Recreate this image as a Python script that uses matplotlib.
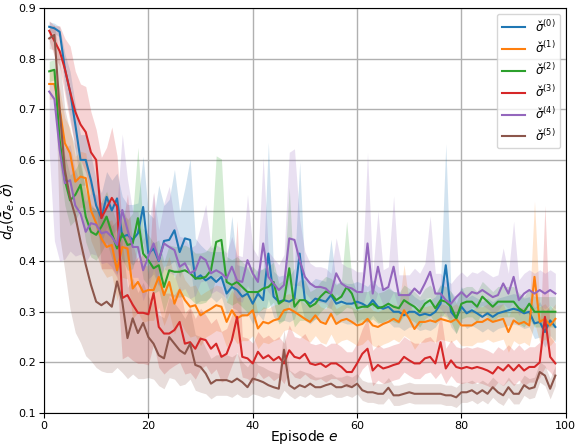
import numpy as np
import matplotlib
matplotlib.use("Agg")
import matplotlib.pyplot as plt

episodes = np.arange(1, 99)

labels = ["$\u03c3\u030c^{(0)}$", "$\u03c3\u030c^{(1)}$", "$\u03c3\u030c^{(2)}$",
          "$\u03c3\u030c^{(3)}$", "$\u03c3\u030c^{(4)}$", "$\u03c3\u030c^{(5)}$"]
colors = ["#1f77b4", "#ff7f0e", "#2ca02c", "#d62728", "#9467bd", "#8c564b"]

# ---- means ----
mean_0 = [0.863,0.860,0.853,0.780,0.735,0.670,0.600,0.600,0.560,0.510,
          0.485,0.527,0.500,0.524,0.448,0.452,0.442,0.455,0.507,0.415,
          0.425,0.400,0.440,0.442,0.461,0.418,0.445,0.442,0.365,0.372,
          0.362,0.369,0.359,0.369,0.336,0.349,0.343,0.330,0.336,0.316,
          0.336,0.323,0.415,0.330,0.320,0.323,0.320,0.326,0.415,0.323,
          0.316,0.326,0.323,0.320,0.333,0.316,0.320,0.316,0.316,0.320,
          0.316,0.310,0.323,0.310,0.306,0.310,0.300,0.300,0.293,0.300,
          0.300,0.293,0.296,0.293,0.300,0.316,0.392,0.300,0.287,0.310,
          0.297,0.303,0.297,0.290,0.297,0.290,0.297,0.300,0.303,0.306,
          0.303,0.297,0.300,0.277,0.280,0.260,0.283,0.270]
mean_1 = [0.750,0.750,0.700,0.633,0.613,0.557,0.567,0.564,0.500,0.475,
          0.445,0.428,0.432,0.382,0.428,0.425,0.346,0.359,0.339,0.343,
          0.343,0.369,0.333,0.359,0.316,0.343,0.323,0.310,0.313,0.293,
          0.300,0.306,0.313,0.310,0.280,0.303,0.287,0.293,0.293,0.303,
          0.267,0.280,0.277,0.283,0.286,0.303,0.306,0.300,0.293,0.286,
          0.280,0.293,0.280,0.276,0.296,0.276,0.283,0.286,0.280,0.273,
          0.276,0.286,0.273,0.270,0.276,0.280,0.286,0.280,0.303,0.286,
          0.266,0.280,0.280,0.283,0.280,0.286,0.283,0.280,0.286,0.273,
          0.273,0.273,0.280,0.280,0.286,0.280,0.283,0.286,0.260,0.283,
          0.276,0.280,0.273,0.369,0.280,0.286,0.273,0.286]
mean_2 = [0.775,0.778,0.640,0.560,0.520,0.531,0.551,0.488,0.458,0.452,
          0.468,0.488,0.455,0.425,0.455,0.432,0.435,0.485,0.415,0.402,
          0.386,0.392,0.349,0.382,0.379,0.379,0.382,0.376,0.366,0.366,
          0.369,0.382,0.438,0.442,0.359,0.353,0.359,0.349,0.339,0.339,
          0.339,0.346,0.349,0.359,0.316,0.323,0.386,0.310,0.323,0.323,
          0.310,0.316,0.330,0.340,0.336,0.323,0.330,0.349,0.336,0.307,
          0.310,0.310,0.316,0.307,0.310,0.316,0.310,0.307,0.323,0.316,
          0.310,0.300,0.316,0.323,0.307,0.323,0.320,0.310,0.287,0.316,
          0.320,0.320,0.310,0.330,0.320,0.310,0.320,0.320,0.320,0.320,
          0.307,0.300,0.316,0.300,0.300,0.300,0.300,0.300]
mean_3 = [0.855,0.835,0.815,0.780,0.735,0.695,0.670,0.655,0.615,0.600,
          0.485,0.505,0.525,0.508,0.327,0.333,0.314,0.298,0.298,0.295,
          0.337,0.270,0.257,0.257,0.264,0.280,0.237,0.240,0.227,0.247,
          0.244,0.227,0.237,0.211,0.217,0.244,0.290,0.211,0.208,0.198,
          0.221,0.208,0.214,0.204,0.211,0.198,0.224,0.211,0.208,0.217,
          0.198,0.195,0.198,0.191,0.198,0.198,0.191,0.181,0.181,0.198,
          0.217,0.227,0.184,0.195,0.188,0.191,0.195,0.198,0.211,0.204,
          0.198,0.198,0.208,0.211,0.198,0.240,0.188,0.204,0.191,0.188,
          0.191,0.188,0.191,0.188,0.184,0.178,0.191,0.184,0.195,0.184,
          0.195,0.184,0.191,0.191,0.200,0.290,0.211,0.198]
mean_4 = [0.735,0.720,0.620,0.554,0.560,0.510,0.494,0.458,0.475,0.472,
          0.455,0.458,0.448,0.432,0.501,0.462,0.428,0.428,0.382,0.409,
          0.435,0.402,0.435,0.428,0.422,0.389,0.396,0.376,0.382,0.409,
          0.402,0.376,0.382,0.376,0.366,0.389,0.362,0.359,0.402,0.376,
          0.359,0.435,0.369,0.356,0.343,0.353,0.445,0.442,0.402,0.369,
          0.356,0.349,0.349,0.346,0.336,0.376,0.356,0.349,0.346,0.339,
          0.339,0.435,0.336,0.389,0.343,0.349,0.389,0.333,0.333,0.333,
          0.346,0.336,0.356,0.379,0.336,0.336,0.323,0.316,0.329,0.339,
          0.329,0.339,0.336,0.343,0.336,0.329,0.333,0.356,0.336,0.369,
          0.323,0.336,0.343,0.336,0.343,0.336,0.343,0.336]
mean_5 = [0.840,0.847,0.700,0.580,0.525,0.489,0.439,0.393,0.353,0.320,
          0.313,0.320,0.310,0.360,0.320,0.248,0.287,0.258,0.278,0.250,
          0.237,0.214,0.208,0.250,0.237,0.224,0.217,0.237,0.195,0.191,
          0.178,0.158,0.165,0.165,0.165,0.161,0.168,0.161,0.151,0.168,
          0.165,0.161,0.155,0.151,0.148,0.225,0.155,0.148,0.155,0.151,
          0.158,0.151,0.151,0.155,0.158,0.151,0.151,0.155,0.151,0.158,
          0.145,0.141,0.141,0.138,0.138,0.150,0.135,0.135,0.138,0.141,
          0.138,0.138,0.138,0.138,0.138,0.138,0.135,0.135,0.131,0.141,
          0.141,0.145,0.138,0.145,0.138,0.151,0.141,0.135,0.151,0.138,
          0.138,0.155,0.148,0.151,0.181,0.174,0.148,0.174]

# ---- band extents above / below the mean, in hundredths ----
up_0 = [1,1,1,3,4,4,5,5,5,5, 5,5,6,5,8,6,7,6,10,8, 6,15,7,8,12,8,10,16,8,6,
        6,5,6,5,6,14,5,6,5,5, 5,6,22,5,5,5,5,6,18,5, 4,4,4,4,11,4,4,4,4,4,
        4,4,4,4,4,4,4,4,4,4, 3,3,3,3,3,4,24,4,4,4, 3,3,3,3,3,3,3,3,3,3,
        3,3,3,3,4,4,3,3]
lo_0 = [1,1,1,4,5,5,5,5,5,5, 5,6,5,6,5,5,5,5,7,5, 5,5,5,5,6,5,5,5,5,5,
        4,4,4,4,4,4,4,4,4,4, 4,4,9,4,4,4,4,4,9,4, 4,4,4,4,4,4,4,4,4,4,
        3,3,3,3,3,3,3,3,3,3, 3,3,3,3,3,3,9,3,3,3, 3,3,3,3,3,3,3,3,3,3,
        3,3,3,3,3,3,3,3]
up_1 = [3,3,4,5,5,5,5,5,5,5, 5,5,5,6,6,6,5,5,5,5, 5,5,5,5,5,5,4,4,4,4,
        4,4,4,4,4,4,4,4,4,4, 3,3,3,3,3,3,3,3,3,3, 3,3,3,3,3,3,3,3,3,3,
        3,3,3,3,3,3,3,3,9,3, 3,3,3,3,3,3,3,3,3,3, 3,3,3,3,3,3,3,3,3,3,
        3,3,3,15,3,3,3,3]
lo_1 = [3,3,5,6,6,6,6,6,6,6, 6,6,6,6,6,6,6,6,6,6, 6,6,6,6,6,6,6,6,6,6,
        5,5,5,5,5,5,5,5,5,5, 4,4,4,4,4,4,4,4,4,4, 4,4,4,4,4,4,4,4,4,4,
        4,4,4,4,4,4,4,4,5,4, 4,4,4,4,4,4,4,4,4,4, 4,4,4,4,4,4,4,4,4,4,
        4,4,4,9,4,4,4,4]
up_2 = [2,2,5,5,5,5,5,5,5,5, 5,5,5,5,5,5,6,14,5,5, 5,5,5,5,5,5,5,5,5,5,
        5,5,17,16,5,5,5,5,5,5, 4,4,4,4,4,4,16,4,4,4, 3,3,3,3,3,3,3,13,3,3,
        3,3,3,3,3,3,3,3,3,3, 3,3,3,3,3,3,3,3,3,3, 3,3,3,3,3,3,3,3,3,3,
        3,3,3,3,3,3,3,3]
lo_2 = [2,2,5,5,5,5,5,5,5,5, 5,5,5,5,5,5,5,6,5,5, 5,5,5,5,5,5,5,5,5,5,
        5,5,7,7,4,4,4,4,4,4, 4,4,4,4,4,4,7,4,4,4, 3,3,3,3,3,3,3,4,3,3,
        3,3,3,3,3,3,3,3,3,3, 3,3,3,3,3,3,3,3,3,3, 3,3,3,3,3,3,3,3,3,3,
        3,3,3,3,3,3,3,3]
up_3 = [2,3,5,6,9,8,8,9,8,6, 12,12,14,10,14,20,12,10,12,8, 20,10,8,8,7,7,6,7,6,6,
        5,5,5,5,5,5,19,4,4,4, 4,4,4,4,4,4,5,4,4,4, 4,4,4,4,4,4,4,4,4,4,
        5,6,4,4,4,4,4,4,4,4, 4,4,4,4,4,6,4,4,4,4, 4,4,4,4,4,4,4,4,4,4,
        4,4,4,4,4,22,4,4]
lo_3 = [2,3,3,5,6,7,7,8,8,8, 10,12,14,14,12,12,11,10,10,10, 10,8,8,7,7,8,6,6,6,6,
        5,5,5,5,5,5,7,4,4,4, 4,4,4,4,4,4,4,4,4,4, 3,3,3,3,3,3,3,3,3,3,
        3,3,3,3,3,3,3,3,3,3, 3,3,3,3,3,6,3,3,3,3, 3,3,3,3,3,3,3,3,3,3,
        3,3,3,3,3,10,3,3]
up_4 = [2,3,6,7,7,7,6,6,6,6, 6,6,7,8,15,10,7,7,6,6, 10,6,8,12,6,6,5,5,5,6,
        11,5,5,5,5,6,5,5,13,5, 5,17,5,5,5,6,17,18,8,5, 4,4,4,4,4,7,4,4,4,4,
        4,18,4,11,4,4,14,4,4,4, 4,4,4,11,4,4,4,4,4,4, 4,4,4,4,4,4,4,7,4,11,
        4,4,4,4,4,4,4,4]
lo_4 = [12,28,22,15,14,10,8,6,6,6, 6,6,6,6,6,6,6,6,6,6, 5,5,5,5,5,5,5,5,5,5,
        4,4,4,4,4,4,4,4,5,4, 3,8,3,3,3,3,9,9,5,3, 3,3,3,3,3,4,3,3,3,3,
        3,9,3,5,3,3,5,3,3,3, 3,3,3,5,3,3,3,3,3,3, 3,3,3,3,3,3,3,4,3,5,
        3,3,3,3,3,3,3,3]
up_5 = [2,2,10,12,13,14,15,15,16,18, 18,17,16,12,12,10,8,8,8,8, 8,8,8,8,8,8,7,7,6,6,
        5,5,5,5,5,5,5,4,4,4, 3,3,3,3,3,4,3,3,3,3, 2,2,2,2,2,2,2,2,2,2,
        2,2,2,2,2,2,2,2,2,2, 2,2,2,2,2,2,2,2,2,2, 2,2,2,2,2,2,2,2,2,2,
        2,2,2,2,2,2,2,2]
lo_5 = [2,3,25,20,22,23,20,18,15,13, 13,14,13,17,14,8,11,9,11,8, 7,6,6,8,7,7,6,7,5,5,
        4,3,3,3,3,3,3,3,2,3, 3,3,2,2,2,8,2,2,2,2, 2,2,2,2,2,2,2,2,2,2,
        2,2,2,2,2,2,2,2,2,2, 2,2,2,2,2,2,2,2,2,2, 2,2,2,2,2,2,2,2,2,2,
        2,2,2,2,2,2,2,2]

means = [mean_0, mean_1, mean_2, mean_3, mean_4, mean_5]
ups = [up_0, up_1, up_2, up_3, up_4, up_5]
los = [lo_0, lo_1, lo_2, lo_3, lo_4, lo_5]

x_ticks = [0, 20, 40, 60, 80, 100]
y_ticks = [0.1, 0.2, 0.3, 0.4, 0.5, 0.6, 0.7, 0.8, 0.9]

fig = plt.figure(figsize=(5.75, 4.47), dpi=100)
ax = fig.add_axes([0.0765, 0.076, 0.9075, 0.906])

for m, u, l, c, lab in zip(means, ups, los, colors, labels):
    m = np.array(m)
    hi = m + np.array(u) / 100.0
    lo = m - np.array(l) / 100.0
    ax.fill_between(episodes, lo, hi, color=c, alpha=0.2, linewidth=0)
    ax.plot(episodes, m, color=c, lw=1.5, label=lab)

ax.set_xlim(0, 100)
ax.set_ylim(0.1, 0.9)
ax.set_xticks(x_ticks)
ax.set_yticks(y_ticks)
ax.set_xticklabels([str(t) for t in x_ticks])
ax.set_yticklabels([f"{t:.1f}" for t in y_ticks])
ax.tick_params(labelsize=8, pad=2)
ax.grid(True, color="#b0b0b0", lw=1)
ax.set_axisbelow(True)
ax.set_xlabel(r"Episode $e$", fontsize=10, labelpad=0)
ax.xaxis.set_label_coords(0.5, -0.037)
ax.set_ylabel("$d_\\sigma(\\bar{\\sigma}_e, \u03c3\u030c)$", fontsize=10, labelpad=1)
ax.legend(loc="upper right", fontsize=8.5)

fig.savefig("out.png", dpi=100)
